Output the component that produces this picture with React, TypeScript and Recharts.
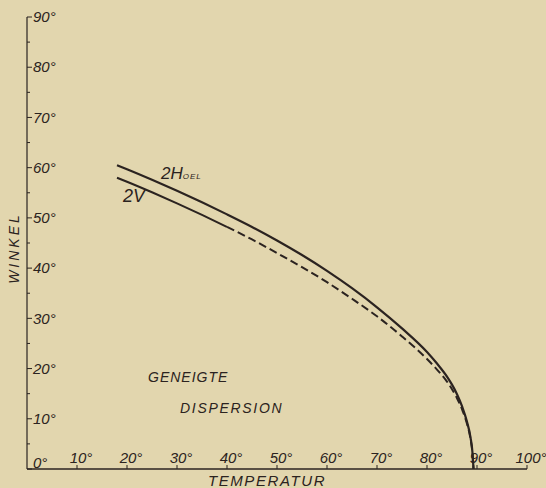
import React from "react"
import { LineChart, Line, XAxis, YAxis } from "recharts"

// Temperatur (°C) und Winkel (°)
const temps = [18, 20, 25, 30, 35, 40, 45, 50, 55, 60, 65, 70, 75, 80, 82, 84, 85, 86, 87, 88, 88.7, 89.1, 89.3]
const hOel = [60.5, 59.7, 57.6, 55.4, 53.1, 50.7, 48.2, 45.5, 42.6, 39.45, 36.0, 32.2, 28.0, 23.3, 21.0, 18.4, 16.8, 14.9, 12.5, 9.4, 6.3, 3.2, 0]
const twoV = [58.0, 57.2, 55.1, 52.9, 50.6, 48.2, 45.7, 43.0, 40.2, 37.2, 33.9, 30.4, 26.4, 21.9, 19.8, 17.4, 15.9, 14.1, 11.9, 9.0, 6.0, 3.0, 0]
const dashFrom = 40 // ab hier ist 2V gestrichelt

const xTicks = [0, 10, 20, 30, 40, 50, 60, 70, 80, 90, 100]
const yTicks = [0, 5, 10, 15, 20, 25, 30, 35, 40, 45, 50, 55, 60, 65, 70, 75, 80, 85, 90]

const ink = "#2b2320"
const paper = "#e2d6ae"
const font = "'Liberation Sans', 'DejaVu Sans', sans-serif"

const data = temps.map((t, i) => ({
  t,
  h: hOel[i],
  vSolid: t <= dashFrom ? twoV[i] : null,
  vDash: t >= dashFrom ? twoV[i] : null,
}))

function YTick(props: any) {
  const { x, y, payload } = props
  const v = payload.value
  const major = v % 10 === 0
  return (
    <g>
      <line x1={x} x2={x + (major ? 5 : 3)} y1={y} y2={y} stroke={ink} strokeWidth={1} />
      {major && (
        <text x={x + 6} y={v === 0 ? y - 6 : y} dy="0.35em" fontSize={15} fontStyle="italic" fontFamily={font} fill={ink}>
          {v}°
        </text>
      )}
    </g>
  )
}

function XTick(props: any) {
  const { x, y, payload } = props
  const v = payload.value
  if (v === 0) return <g />
  return (
    <g>
      <line x1={x} x2={x} y1={y} y2={y - 4} stroke={ink} strokeWidth={1} />
      <text x={x + 4} y={y - 6} textAnchor="middle" fontSize={15} fontStyle="italic" fontFamily={font} fill={ink}>
        {v}°
      </text>
    </g>
  )
}

const txt: React.CSSProperties = {
  position: "absolute",
  fontFamily: font,
  fontStyle: "italic",
  color: ink,
  whiteSpace: "nowrap",
  lineHeight: 1,
}

export default function App() {
  return (
    <div style={{ position: "absolute", left: 0, top: 0, width: 546, height: 488, background: paper, overflow: "hidden" }}>
      <LineChart width={546} height={488} data={data} margin={{ top: 17, right: 19, left: 0, bottom: 0 }}>
        <XAxis
          dataKey="t"
          type="number"
          domain={[0, 100]}
          ticks={xTicks}
          interval={0}
          height={19}
          tickSize={0}
          tickMargin={0}
          tickLine={false}
          axisLine={{ stroke: ink, strokeWidth: 1.4 }}
          tick={<XTick />}
        />
        <YAxis
          type="number"
          domain={[0, 90]}
          ticks={yTicks}
          interval={0}
          width={27}
          tickSize={0}
          tickMargin={0}
          tickLine={false}
          axisLine={{ stroke: ink, strokeWidth: 1.2 }}
          tick={<YTick />}
        />
        <Line type="monotone" dataKey="h" stroke={ink} strokeWidth={2.2} dot={false} isAnimationActive={false} />
        <Line type="monotone" dataKey="vSolid" stroke={ink} strokeWidth={2} dot={false} isAnimationActive={false} />
        <Line type="monotone" dataKey="vDash" stroke={ink} strokeWidth={2} strokeDasharray="8 4" dot={false} isAnimationActive={false} />
      </LineChart>

      <div style={{ ...txt, left: 161, top: 165, fontSize: 17 }}>
        2H<span style={{ fontSize: 8, letterSpacing: 1 }}>OEL</span>
      </div>
      <div style={{ ...txt, left: 123, top: 187, fontSize: 18 }}>2V</div>
      <div style={{ ...txt, left: 148, top: 370, fontSize: 14, letterSpacing: 1 }}>GENEIGTE</div>
      <div style={{ ...txt, left: 180, top: 401, fontSize: 14, letterSpacing: 1.7 }}>DISPERSION</div>
      <div
        style={{
          ...txt,
          left: 14,
          top: 248,
          fontSize: 14,
          letterSpacing: 3,
          transform: "translate(-50%, -50%) rotate(-90deg)",
        }}
      >
        WINKEL
      </div>
      <div style={{ ...txt, left: 267, top: 480, fontSize: 15, letterSpacing: 1.6, transform: "translate(-50%, -50%)" }}>
        TEMPERATUR
      </div>
    </div>
  )
}
